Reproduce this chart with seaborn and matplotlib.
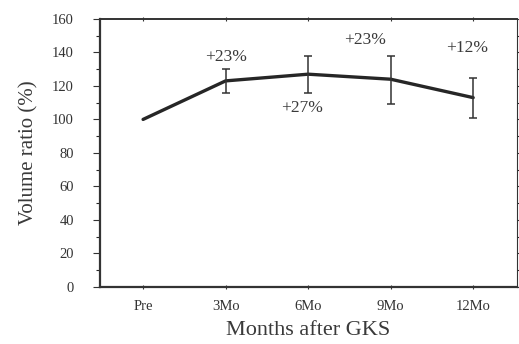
import matplotlib
matplotlib.use("Agg")
import matplotlib.pyplot as plt
import numpy as np
import pandas as pd
import seaborn as sns
from matplotlib.ticker import MultipleLocator

# values
stages = ["Pre", "3Mo", "6Mo", "9Mo", "12Mo"]
volume_ratio = [100, 123, 127, 124, 113]
err_upper = [100, 130, 138, 138, 125]
err_lower = [100, 116, 116, 109, 101]
change_labels = ["", "+23%", "+27%", "+23%", "+12%"]
label_y = [None, 137, 107, 147.5, 142.5]

sns.set_theme(style="ticks")
plt.rcParams["font.family"] = ["Liberation Serif", "DejaVu Serif"]

fig = plt.figure(figsize=(5.19, 3.44), dpi=100)
ax = fig.add_axes([0.193, 0.166, 0.803, 0.779])

df = pd.DataFrame({"pos": np.arange(len(stages)), "ratio": volume_ratio})
sns.lineplot(data=df, x="pos", y="ratio", ax=ax, color="#262626", linewidth=2.4)

lo = np.array(volume_ratio) - np.array(err_lower)
hi = np.array(err_upper) - np.array(volume_ratio)
ax.errorbar(df["pos"][1:], np.array(volume_ratio)[1:],
            yerr=[lo[1:], hi[1:]], fmt="none",
            ecolor="#333333", elinewidth=1.1, capsize=3, capthick=1.1)

offsets = [0, 0, -0.07, -0.31, -0.07]
for i, lab in enumerate(change_labels):
    if lab:
        ax.text(i + offsets[i], label_y[i], lab, ha="center", va="center",
                fontsize=12.5, color="#3a3a3a")

ax.set_xlim(-0.52, 4.53)
ax.set_ylim(0, 160)
ax.set_xticks(range(len(stages)))
ax.set_xticklabels(stages)
ax.yaxis.set_major_locator(MultipleLocator(20))
ax.yaxis.set_minor_locator(MultipleLocator(10))
ax.tick_params(axis="both", labelsize=10.5, colors="#333333", length=5, width=0.8)
ax.tick_params(axis="y", which="major", pad=14)
ax.tick_params(axis="y", which="minor", length=3, width=0.8)
ax.tick_params(axis="x", length=3, top=True, direction="inout", pad=8)
ax.tick_params(axis="y", which="both", right=True)

for side in ["left", "bottom", "top", "right"]:
    ax.spines[side].set_visible(True)
    ax.spines[side].set_color("#333333")
ax.spines["left"].set_linewidth(1.6)
ax.spines["bottom"].set_linewidth(1.6)
ax.spines["top"].set_linewidth(1.4)
ax.spines["right"].set_linewidth(0.8)

ax.set_xlabel("Months after GKS", fontsize=16, color="#3a3a3a", labelpad=6)
ax.set_ylabel("Volume ratio (%)", fontsize=15, color="#3a3a3a", labelpad=10)

fig.savefig("out.png", dpi=100)
